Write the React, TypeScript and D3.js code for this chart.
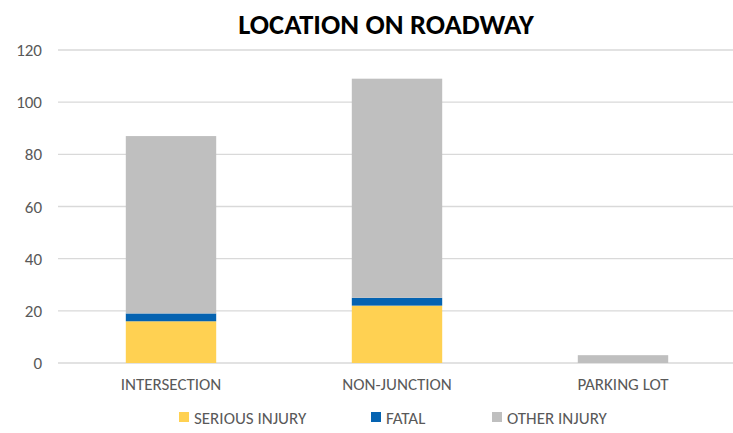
import React from 'react';
import * as d3 from 'd3';

// values
const categories = ['INTERSECTION', 'NON-JUNCTION', 'PARKING LOT'];
const seriesNames = ['SERIOUS INJURY', 'FATAL', 'OTHER INJURY'];
const seriousInjury = [16, 22, 0];
const fatal = [3, 3, 0];
const otherInjury = [68, 84, 3];
const yTicks = [0, 20, 40, 60, 80, 100, 120];
const colors = ['#FFD152', '#0563B1', '#BFBFBF'];

const W = 733;
const H = 433;
const font = "Carlito, Calibri, 'Open Sans', 'Liberation Sans', sans-serif";

export default function App() {
  const rows = categories.map((c, i) => ({
    cat: c,
    'SERIOUS INJURY': seriousInjury[i],
    FATAL: fatal[i],
    'OTHER INJURY': otherInjury[i],
  }));
  const stacked = d3.stack<any>().keys(seriesNames)(rows);

  const x = d3.scaleBand().domain(categories).range([58, 736]).paddingInner(0.6).paddingOuter(0.3);
  const y = d3.scaleLinear().domain([0, 120]).range([363, 50]);
  const color = d3.scaleOrdinal<string>().domain(seriesNames).range(colors);

  const legendX = [181, 373, 494];

  return (
    <svg width={W} height={H} style={{ position: 'absolute', left: 0, top: 0, background: '#fff' }}>
      <text x={386} y={34} textAnchor="middle" fontFamily={font} fontSize={28.5} fontWeight="bold" fill="#000">
        LOCATION ON ROADWAY
      </text>
      {yTicks.map(t => (
        <g key={t}>
          <line x1={58} x2={736} y1={y(t)} y2={y(t)} stroke="#D9D9D9" strokeWidth={1.3} />
          <text x={42} y={y(t) + 6} textAnchor="end" fontFamily={font} fontSize={17} fill="#595959">{t}</text>
        </g>
      ))}
      {stacked.map(s => (
        <g key={s.key} fill={color(s.key)}>
          {s.map((d, i) => (
            <rect key={i} x={x(categories[i])} width={x.bandwidth()}
              y={y(d[1])} height={Math.max(0, y(d[0]) - y(d[1]))} />
          ))}
        </g>
      ))}
      {categories.map(c => (
        <text key={c} x={(x(c) as number) + x.bandwidth() / 2} y={390} textAnchor="middle"
          fontFamily={font} fontSize={17} fill="#595959">{c}</text>
      ))}
      {seriesNames.map((n, i) => (
        <g key={n}>
          <rect x={legendX[i] - 2} y={412} width={10} height={10} fill={colors[i]} />
          <text x={legendX[i] + 13} y={424} fontFamily={font} fontSize={17} fill="#595959">{n}</text>
        </g>
      ))}
    </svg>
  );
}
